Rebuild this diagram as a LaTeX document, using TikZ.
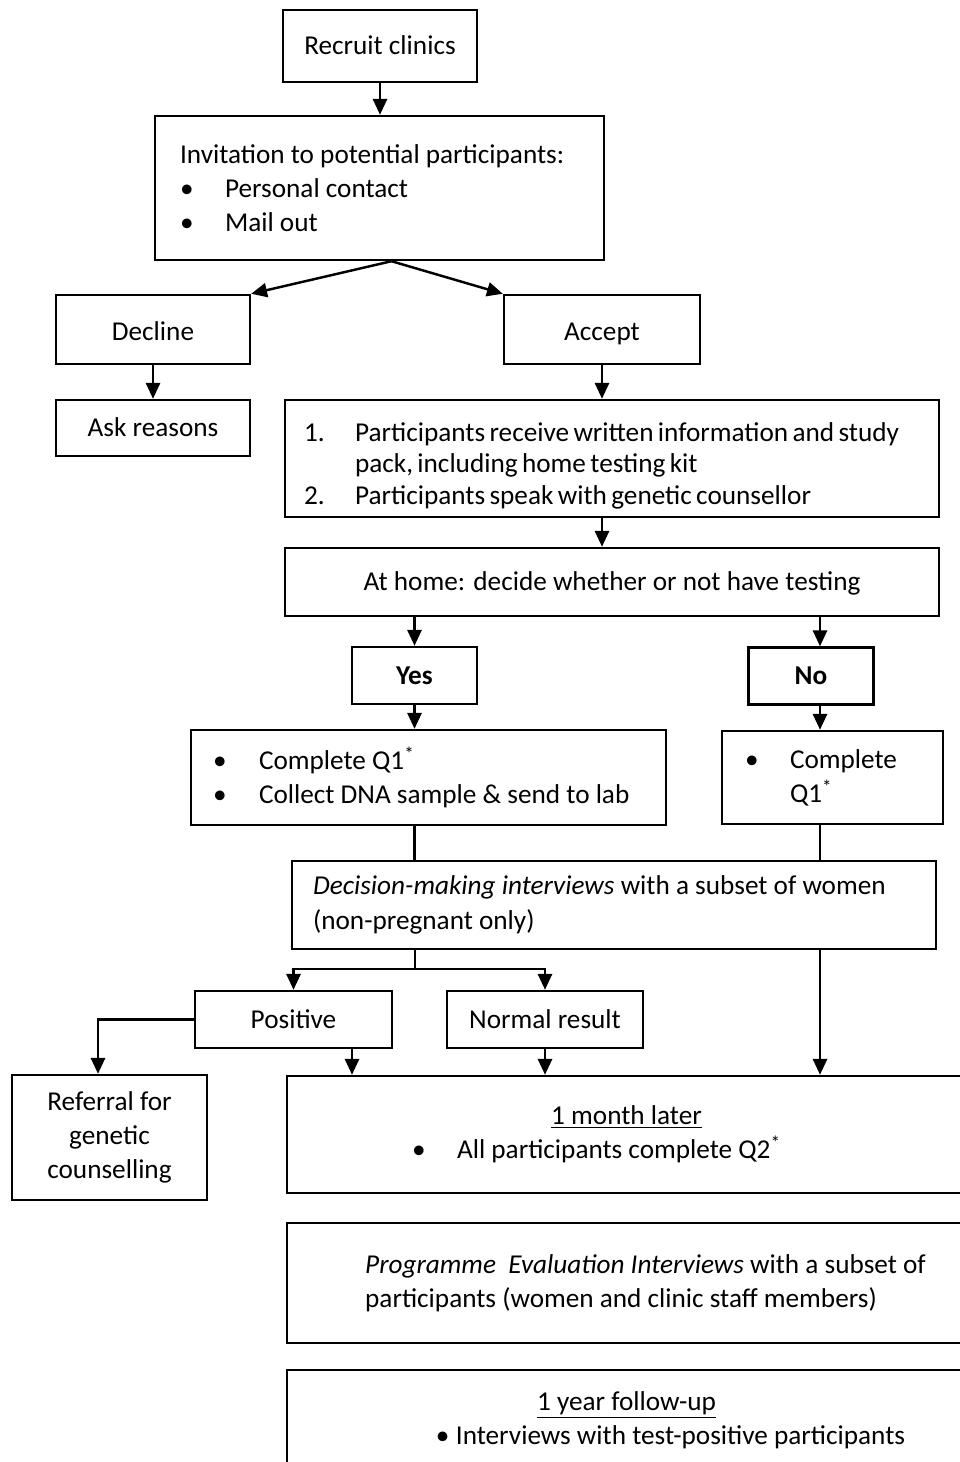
\documentclass[tikz,border=0pt]{standalone}
\usepackage{fontspec}
\setmainfont{Carlito}
\usetikzlibrary{arrows.meta}

\begin{document}
\begin{tikzpicture}[
        x=0.02cm, y=-0.02cm,
        box/.style={draw, line width=1.4pt, inner sep=0pt, font=\fontsize{15.5}{19.5}\selectfont},
        one/.style={box, text height=12pt, text depth=2pt},
        arr/.style={line width=1.4pt, -{Triangle[width=8pt,length=9pt]}},
        link/.style={line width=1.4pt}
    ]
        \useasboundingbox (0,0) rectangle (959,1462);

        % Vẽ các hộp
        \node[one, minimum width=3.88cm, minimum height=1.44cm] (recruit) at (380,46) {Recruit clinics};
        \node[box, minimum width=8.98cm, minimum height=2.88cm, text width=7.98cm, align=flush left] (invite) at (379.5,188)
            {Invitation to potential participants:\\
             \makebox[0.9cm][l]{\textbullet}Personal contact\\
             \makebox[0.9cm][l]{\textbullet}Mail out};
        \node[one, text height=14pt, text depth=1pt, minimum width=3.88cm, minimum height=1.38cm] (decline) at (153,329.5) {Decline};
        \node[one, text height=14pt, text depth=1pt, minimum width=3.92cm, minimum height=1.38cm] (accept) at (602,329.5) {Accept};
        \node[one, minimum width=3.88cm, minimum height=1.12cm] (ask) at (153,428) {Ask reasons};
        \node[box, minimum width=13.08cm, minimum height=2.34cm, text width=12.32cm, align=flush left,
              font=\fontsize{15.5}{18}\selectfont] (pack) at (612,458.5)
            {\spaceskip=0.16em plus 0.05em
             \mbox{\rule{0pt}{19pt}\makebox[1.02cm][l]{1.}Participants receive written information and study}\\
             \hspace*{1.02cm}pack, including home testing kit\\
             \mbox{\makebox[1.02cm][l]{2.}Participants speak with genetic counsellor}};
        \node[one, minimum width=13.08cm, minimum height=1.36cm] (home) at (612,582) {At home: decide whether or not have testing};
        \node[one, minimum width=2.5cm, minimum height=1.14cm, font=\fontsize{15.5}{19.5}\selectfont\bfseries] (yes) at (414.5,675.5) {Yes};
        \node[one, minimum width=2.5cm, minimum height=1.14cm, font=\fontsize{15.5}{19.5}\selectfont\bfseries] (no) at (811,676) {No};
        \node[box, minimum width=9.5cm, minimum height=1.9cm, text width=8.62cm, align=flush left] (q1yes) at (428.5,777.5)
            {\makebox[0.92cm][l]{\textbullet}Complete Q1\textsuperscript{*}\\
             \mbox{\makebox[0.92cm][l]{\textbullet}Collect DNA sample \& send to lab}};
        \node[box, minimum width=4.42cm, minimum height=1.86cm, text width=3.5cm, align=flush left] (q1no) at (832.5,777.5)
            {\makebox[0.9cm][l]{\textbullet}Complete\\
             \hspace*{0.9cm}Q1\textsuperscript{*}};
        \node[box, minimum width=12.88cm, minimum height=1.76cm, text width=12.04cm, align=flush left] (decide) at (614,905)
            {\textit{Decision-making interviews} with a subset of women\\
             (non-pregnant only)};
        \node[one, minimum width=3.94cm, minimum height=1.14cm] (pos) at (293.5,1019.5) {Positive};
        \node[one, minimum width=3.92cm, minimum height=1.14cm] (normal) at (545,1019.5) {Normal result};
        \node[box, minimum width=3.9cm, minimum height=2.5cm, align=center] (referral) at (109.5,1137.5)
            {Referral for\\genetic\\counselling};
        \node[box, minimum width=13.58cm, minimum height=2.34cm, align=center] (month) at (626.5,1134.5)
            {\underline{1 month later}\\
             \hspace*{-1.2cm}\makebox[0.9cm][l]{\textbullet}All participants complete Q2\textsuperscript{*}};
        \node[box, minimum width=13.58cm, minimum height=2.4cm, align=left] (prog) at (626.5,1283)
            {\hspace*{0.76cm}\textit{Programme\ \ Evaluation Interviews} with a subset of\\
             \hspace*{0.76cm}participants (women and clinic staff members)};
        \node[box, minimum width=13.58cm, minimum height=2cm, align=center] (year) at (626.5,1420)
            {\underline{1 year follow-up}\\
             \hspace*{1.76cm}\makebox[0.4cm][l]{\textbullet}Interviews with test-positive participants};

        \coordinate (nx) at (820,0);
        \coordinate (px) at (352,0);
        \coordinate (rx) at (98,0);
        \coordinate (bus) at (415,969);

        % Các mũi tên
        \draw[arr] (recruit.south) -- (recruit.south |- invite.north);
        \draw[arr] ([xshift=0.24cm]invite.south) -- (decline.north east);
        \draw[arr] ([xshift=0.24cm]invite.south) -- (accept.north west);
        \draw[arr] (decline.south) -- (decline.south |- ask.north);
        \draw[arr] (accept.south) -- (accept.south |- pack.north);
        \draw[arr] (accept.south |- pack.south) -- (accept.south |- home.north);
        \draw[arr] (yes.north |- home.south) -- (yes.north);
        \draw[arr] (nx |- home.south) -- (nx |- no.north);
        \draw[arr] (yes.south) -- (yes.south |- q1yes.north);
        \draw[arr] (nx |- no.south) -- (nx |- q1no.north);
        \draw[link] (yes.south |- q1yes.south) -- (yes.south |- decide.north);
        \draw[link] (nx |- q1no.south) -- (nx |- decide.north);
        \draw[link] (bus |- decide.south) -- (bus);
        \draw[arr] (bus) -| (pos.north);
        \draw[arr] (bus) -| (normal.north);
        \draw[arr] (nx |- decide.south) -- (nx |- month.north);
        \draw[arr] (pos.west) -| (rx |- referral.north);
        \draw[arr] (px |- pos.south) -- (px |- month.north);
        \draw[arr] (normal.south) -- (normal.south |- month.north);
    \end{tikzpicture}
\end{document}
